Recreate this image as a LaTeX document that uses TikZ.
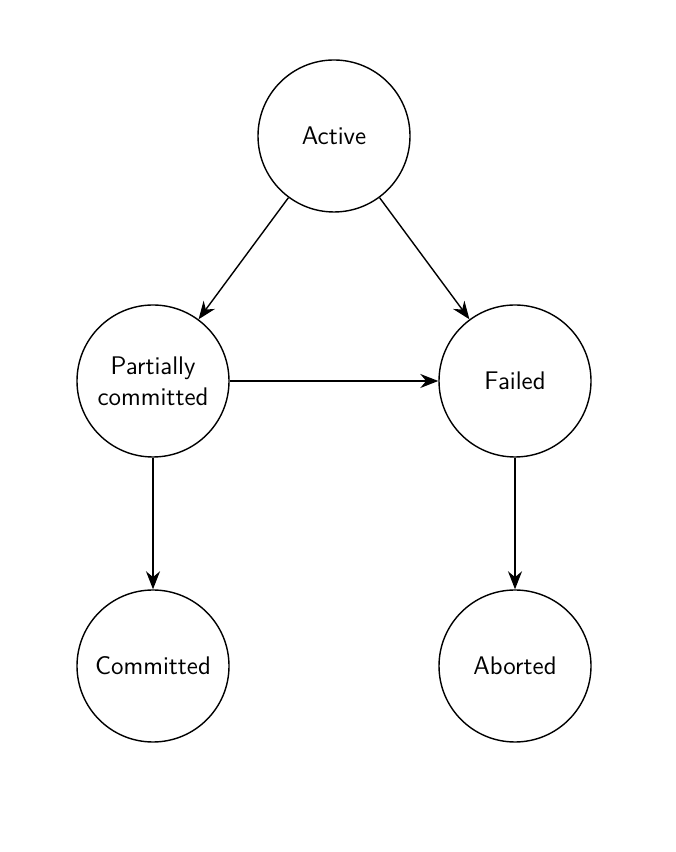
\documentclass[tikz,border=0pt]{standalone}
\usepackage{tikz}
\usetikzlibrary{arrows.meta}

\begin{document}
\begin{tikzpicture}[>={Stealth[length=3.6mm,width=2.8mm]},line width=0.8pt]
  \tikzset{state/.style={draw,circle,minimum size=3.04cm,inner sep=0pt,align=center,
      font=\sffamily\fontsize{14.5}{17.5}\selectfont}}
  \useasboundingbox (0,0) rectangle (13.52,17.04);

  \node[state] (act) at (6.68,14.32) {Active};
  \node[state] (pc) at (3.06,9.42) {Partially\\committed};
  \node[state] (fail) at (10.30,9.42) {Failed};
  \node[state] (com) at (3.06,3.72) {Committed};
  \node[state] (abo) at (10.30,3.72) {Aborted};

  \draw[->] (act) -- (pc);
  \draw[->] (act) -- (fail);
  \draw[->] (pc) -- (fail);
  \draw[->] (pc) -- (com);
  \draw[->] (fail) -- (abo);
\end{tikzpicture}
\end{document}
